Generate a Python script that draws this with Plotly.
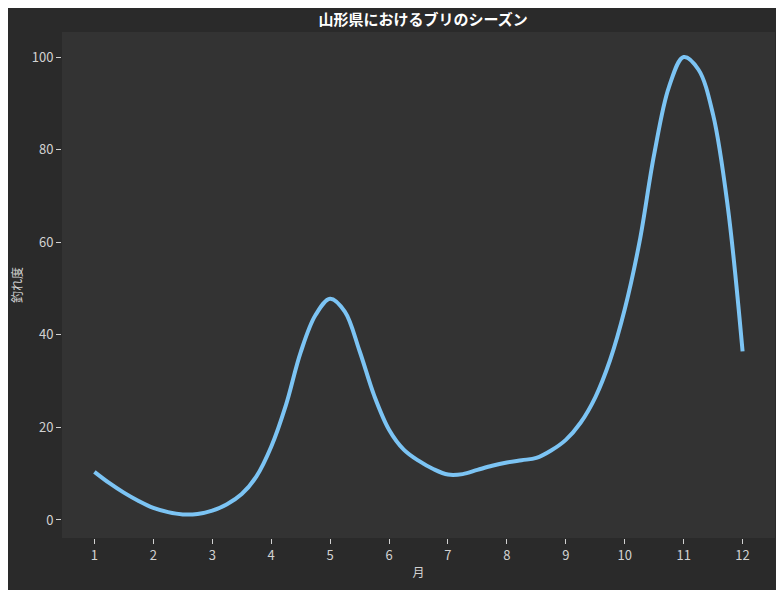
import plotly.graph_objects as go

# month positions (quarter-month steps) and catch index
months = [1, 1.25, 1.5, 1.75, 2, 2.25, 2.5, 2.75, 3, 3.25, 3.5, 3.75,
          4, 4.25, 4.5, 4.75, 5, 5.25, 5.5, 5.75, 6, 6.25, 6.5, 6.75,
          7, 7.25, 7.5, 7.75, 8, 8.25, 8.5, 8.75, 9, 9.25, 9.5, 9.75,
          10, 10.25, 10.5, 10.75, 11, 11.25, 11.5, 11.75, 12]
catch_index = [10.4, 8.0, 5.9, 4.1, 2.6, 1.7, 1.2, 1.3, 2.0, 3.4, 5.6, 9.4,
               15.8, 24.8, 36.2, 44.2, 47.8, 45.0, 36.5, 26.8, 19.5, 15.2, 12.8, 11.0,
               9.8, 9.9, 10.8, 11.7, 12.4, 12.9, 13.4, 15.0, 17.3, 21.0, 26.5, 34.5,
               45.5, 60.0, 79.0, 93.5, 100.0, 97.3, 87.5, 67.5, 36.4]
tick_vals = list(range(1, 13))

font_family = "Noto Sans CJK JP"
tick_color = "#d2d2d2"

fig = go.Figure()

fig.add_trace(go.Scatter(
    x=months,
    y=catch_index,
    mode='lines',
    line=dict(color='#7cc4f4', width=4, shape='spline', smoothing=1),
    showlegend=False
))

# the page adds an 8px body margin, so the figure is sized to fit inside it
fig.update_layout(
    width=776,
    height=582,
    paper_bgcolor='#2a2a2a',
    plot_bgcolor='#333333',
    margin=dict(l=54, r=9, t=24, b=52),
    font=dict(family=font_family, color=tick_color, size=13),
    title=dict(
        text='<b>山形県におけるブリのシーズン</b>',
        x=0.535,
        xanchor='center',
        yref='container',
        y=0.980,
        yanchor='middle',
        font=dict(size=15, color='white', family=font_family)
    ),
    xaxis=dict(
        title=dict(text='月', font=dict(size=12, color=tick_color), standoff=6),
        range=[0.45, 12.55],
        tickvals=tick_vals,
        ticks='outside',
        ticklen=5,
        tickcolor=tick_color,
        showgrid=False,
        zeroline=False,
        showline=False,
        automargin=False
    ),
    yaxis=dict(
        title=dict(text='釣れ度', font=dict(size=12, color=tick_color), standoff=8),
        range=[-3.9, 105.4],
        tickvals=[0, 20, 40, 60, 80, 100],
        ticks='outside',
        ticklen=5,
        tickcolor=tick_color,
        showgrid=False,
        zeroline=False,
        showline=False,
        automargin=False
    )
)

fig.write_html("out.html")
